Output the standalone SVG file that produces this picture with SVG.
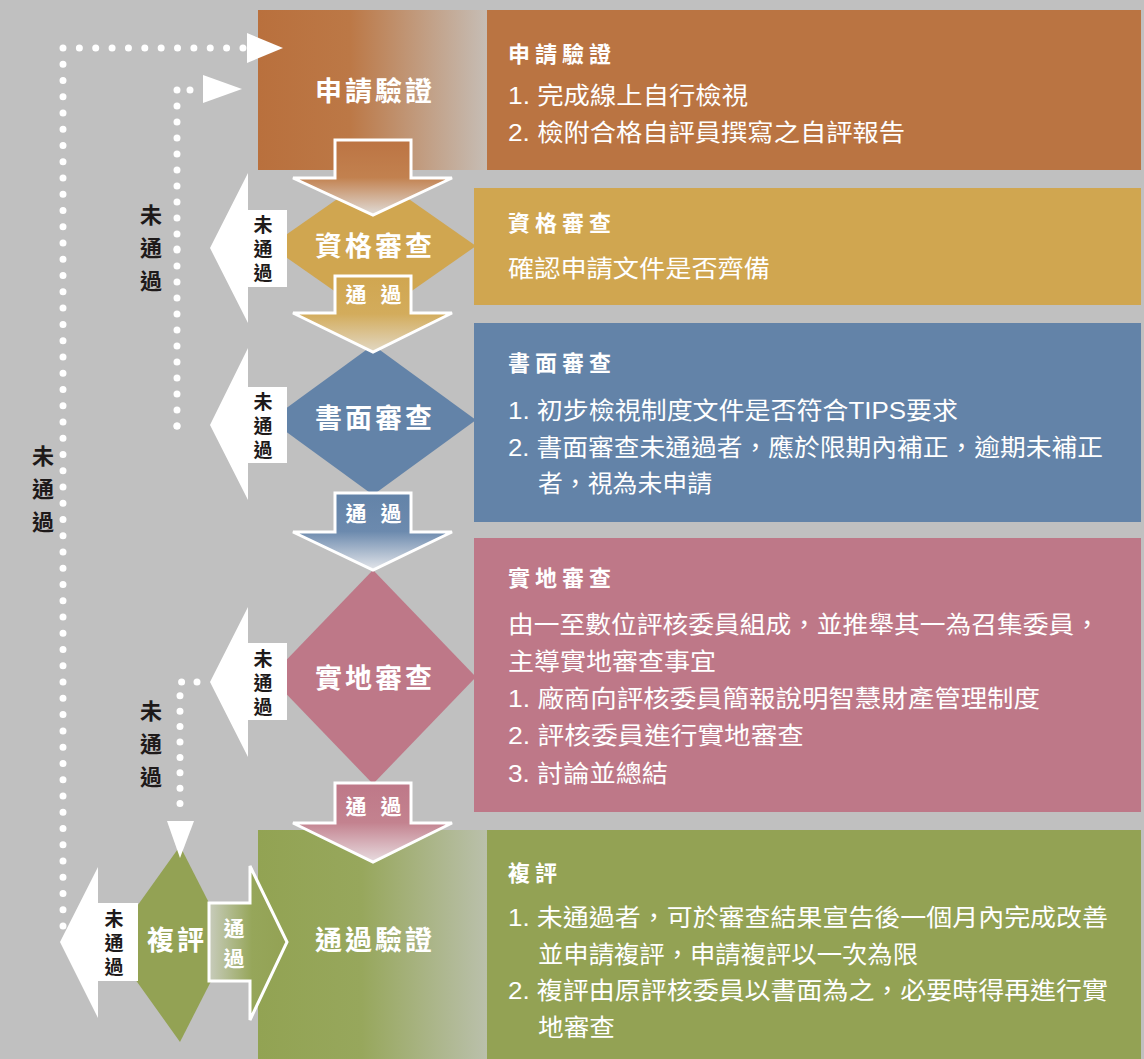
<svg xmlns="http://www.w3.org/2000/svg" width="1144" height="1059" viewBox="0 0 1144 1059">
<defs>
<style>
text{font-family:'Liberation Sans','Noto Sans CJK TC',sans-serif;}
.pt{fill:#fff;font-size:22px;font-weight:bold;letter-spacing:5px;}
.pb{fill:#fff;font-size:24px;}
.dl{fill:#fff;font-size:27px;font-weight:bold;letter-spacing:3px;text-anchor:middle;}
.al{fill:#fff;font-size:21px;font-weight:bold;text-anchor:middle;}
.nl{fill:#1e1a1a;font-size:19px;font-weight:bold;text-anchor:middle;}
.ol{fill:#1e1a1a;font-size:22px;font-weight:bold;text-anchor:middle;}
.dots{fill:none;stroke:#fff;stroke-width:7;stroke-linecap:round;}
.wa{fill:#fff;}
.da{stroke:#fff;stroke-width:3;stroke-linejoin:miter;}
</style>
<linearGradient id="gBox1" gradientUnits="userSpaceOnUse" x1="258" y1="0" x2="487" y2="0">
<stop offset="0" stop-color="#b9703d"/><stop offset="0.4" stop-color="#bc7846"/><stop offset="1" stop-color="#c6bdb5"/>
</linearGradient>
<linearGradient id="gBox2" gradientUnits="userSpaceOnUse" x1="258" y1="0" x2="487" y2="0">
<stop offset="0" stop-color="#92a353"/><stop offset="0.45" stop-color="#97a75c"/><stop offset="1" stop-color="#bac0ab"/>
</linearGradient>
<linearGradient id="gA1" x1="0" y1="0" x2="0" y2="1">
<stop offset="0" stop-color="#bc7443"/><stop offset="0.5" stop-color="#c2814f"/><stop offset="1" stop-color="#e0dcd8"/>
</linearGradient>
<linearGradient id="gA2" x1="0" y1="0" x2="0" y2="1">
<stop offset="0" stop-color="#d0a650"/><stop offset="0.5" stop-color="#d3ac5c"/><stop offset="1" stop-color="#e2d8c4"/>
</linearGradient>
<linearGradient id="gA3" x1="0" y1="0" x2="0" y2="1">
<stop offset="0" stop-color="#6383a8"/><stop offset="0.5" stop-color="#6c8aae"/><stop offset="1" stop-color="#e4e6ea"/>
</linearGradient>
<linearGradient id="gA4" x1="0" y1="0" x2="0" y2="1">
<stop offset="0" stop-color="#be7888"/><stop offset="0.5" stop-color="#c3828f"/><stop offset="1" stop-color="#e8dce0"/>
</linearGradient>
<linearGradient id="gA5" x1="0" y1="0" x2="1" y2="0">
<stop offset="0" stop-color="#c8ccbc"/><stop offset="0.55" stop-color="#96a65a"/><stop offset="1" stop-color="#93a254"/>
</linearGradient>
</defs>
<rect x="0" y="0" width="1144" height="1059" fill="#c0c0c0"/>

<g id="panel-apply">
<rect x="483" y="10" width="658" height="160" fill="#ba7442"/>
<text class="pt" x="508" y="62">申請驗證</text>
<text class="pb" x="508" y="104" textLength="240" lengthAdjust="spacingAndGlyphs">1. 完成線上自行檢視</text>
<text class="pb" x="508" y="141" textLength="397" lengthAdjust="spacingAndGlyphs">2. 檢附合格自評員撰寫之自評報告</text>
</g>
<g id="panel-qual">
<rect x="474" y="188" width="667" height="117" fill="#d0a650"/>
<text class="pt" x="508" y="231">資格審查</text>
<text class="pb" x="508" y="277" textLength="262" lengthAdjust="spacingAndGlyphs">確認申請文件是否齊備</text>
</g>
<g id="panel-doc">
<rect x="474" y="323" width="667" height="199" fill="#6383a8"/>
<text class="pt" x="508" y="371">書面審查</text>
<text class="pb" x="508" y="419" textLength="450" lengthAdjust="spacingAndGlyphs">1. 初步檢視制度文件是否符合TIPS要求</text>
<text class="pb" x="508" y="456" textLength="595" lengthAdjust="spacingAndGlyphs">2. 書面審查未通過者，應於限期內補正，逾期未補正</text>
<text class="pb" x="538" y="492" textLength="174" lengthAdjust="spacingAndGlyphs">者，視為未申請</text>
</g>
<g id="panel-site">
<rect x="474" y="538" width="667" height="274" fill="#be7888"/>
<text class="pt" x="508" y="586">實地審查</text>
<text class="pb" x="508" y="633" textLength="592" lengthAdjust="spacingAndGlyphs">由一至數位評核委員組成，並推舉其一為召集委員，</text>
<text class="pb" x="508" y="670" textLength="208" lengthAdjust="spacingAndGlyphs">主導實地審查事宜</text>
<text class="pb" x="508" y="707" textLength="532" lengthAdjust="spacingAndGlyphs">1. 廠商向評核委員簡報說明智慧財產管理制度</text>
<text class="pb" x="508" y="744" textLength="296" lengthAdjust="spacingAndGlyphs">2. 評核委員進行實地審查</text>
<text class="pb" x="508" y="782" textLength="160" lengthAdjust="spacingAndGlyphs">3. 討論並總結</text>
</g>
<g id="panel-review">
<rect x="483" y="830" width="658" height="229" fill="#93a254"/>
<text class="pt" x="508" y="881">複評</text>
<text class="pb" x="508" y="926" textLength="600" lengthAdjust="spacingAndGlyphs">1. 未通過者，可於審查結果宣告後一個月內完成改善</text>
<text class="pb" x="538" y="963" textLength="380" lengthAdjust="spacingAndGlyphs">並申請複評，申請複評以一次為限</text>
<text class="pb" x="508" y="999" textLength="600" lengthAdjust="spacingAndGlyphs">2. 複評由原評核委員以書面為之，必要時得再進行實</text>
<text class="pb" x="538" y="1036" textLength="77" lengthAdjust="spacingAndGlyphs">地審查</text>
</g>

<g id="node-apply">
<rect x="258" y="10" width="229" height="160" fill="url(#gBox1)"/>
</g>
<g id="node-pass">
<rect x="258" y="830" width="229" height="229" fill="url(#gBox2)"/>
</g>
<g id="node-qual">
<polygon points="373,174 476,246 373,318 270,246" fill="#d0a650"/>
</g>
<g id="node-doc">
<polygon points="373,345 476,420 373,495 270,420" fill="#6383a8"/>
</g>
<g id="node-site">
<polygon points="373,570 476,677 373,784 270,677" fill="#be7888"/>
</g>
<g id="node-rereview">
<polygon points="180,846 230,944 180,1042 110,944" fill="#93a254"/>
</g>

<g id="connectors">
<polygon class="da" fill="url(#gA1)" points="335,140 411,140 411,178 452,178 373,215 293,178 335,178"/>
<polygon class="da" fill="url(#gA2)" points="335,276 411,276 411,313 452,313 373,352 293,313 335,313"/>
<polygon class="da" fill="url(#gA3)" points="335,493 411,493 411,532 452,532 373,570 293,532 335,532"/>
<polygon class="da" fill="url(#gA4)" points="335,783 411,783 411,823 452,823 373,862 293,823 335,823"/>
<polygon class="da" fill="url(#gA5)" points="209,903 250,903 250,866 287,942 250,1020 250,981 209,981"/>
<text class="al"><tspan x="356" y="302">通</tspan><tspan x="391" y="302">過</tspan></text>
<text class="al"><tspan x="356" y="521">通</tspan><tspan x="391" y="521">過</tspan></text>
<text class="al"><tspan x="356" y="814">通</tspan><tspan x="391" y="814">過</tspan></text>
<text class="al"><tspan x="234" y="936">通</tspan><tspan x="234" y="966">過</tspan></text>

<polygon class="wa" points="210,248 248,173 248,210 287,210 287,287 248,287 248,323"/>
<polygon class="wa" points="210,425 248,348 248,387 287,387 287,463 248,463 248,500"/>
<polygon class="wa" points="210,682 248,607 248,643 287,643 287,720 248,720 248,757"/>
<polygon class="wa" points="60,942 98,867 98,903 138,903 138,981 98,981 98,1018"/>
<text class="nl"><tspan x="263" y="232">未</tspan><tspan x="263" y="256">通</tspan><tspan x="263" y="280">過</tspan></text>
<text class="nl"><tspan x="263" y="409">未</tspan><tspan x="263" y="433">通</tspan><tspan x="263" y="457">過</tspan></text>
<text class="nl"><tspan x="263" y="666">未</tspan><tspan x="263" y="690">通</tspan><tspan x="263" y="714">過</tspan></text>
<text class="nl"><tspan x="114" y="926">未</tspan><tspan x="114" y="950">通</tspan><tspan x="114" y="974">過</tspan></text>

<path class="dots" d="M63 926 V48" stroke-dasharray="0 16.26"/>
<path class="dots" d="M63 48 H243" stroke-dasharray="0 16.36"/>
<polygon class="wa" points="247,33 283,48 247,63"/>
<path class="dots" d="M177 426 V90" stroke-dasharray="0 16"/>
<path class="dots" d="M177 90 H203" stroke-dasharray="0 13"/>
<polygon class="wa" points="203,75 242,89 203,103"/>
<path class="dots" d="M177 249 H198" stroke-dasharray="0 21"/>
<path class="dots" d="M177 426 H196" stroke-dasharray="0 19"/>
<path class="dots" d="M197 682 H180 V805" stroke-dasharray="0 15.4"/>
<polygon class="wa" points="167,821 194,821 180,858"/>
<text class="ol"><tspan x="43" y="464">未</tspan><tspan x="43" y="497">通</tspan><tspan x="43" y="530">過</tspan></text>
<text class="ol"><tspan x="151" y="223">未</tspan><tspan x="151" y="256">通</tspan><tspan x="151" y="289">過</tspan></text>
<text class="ol"><tspan x="151" y="719">未</tspan><tspan x="151" y="752">通</tspan><tspan x="151" y="785">過</tspan></text>
</g>

<g id="labels">
<text class="dl" x="375" y="101">申請驗證</text>
<text class="dl" x="375" y="256">資格審查</text>
<text class="dl" x="375" y="428">書面審查</text>
<text class="dl" x="375" y="688">實地審查</text>
<text class="dl" x="177" y="950">複評</text>
<text class="dl" x="375" y="950">通過驗證</text>
</g>
</svg>
